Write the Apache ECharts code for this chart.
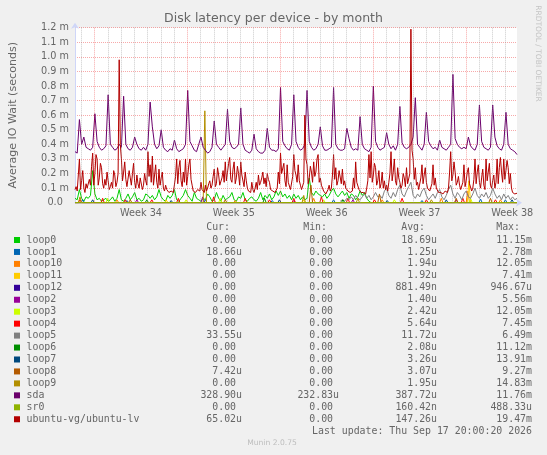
<!DOCTYPE html>
<html><head><meta charset="utf-8">
<script src="https://cdn.jsdelivr.net/npm/echarts@6/dist/echarts.min.js"></script>
<style>html,body{margin:0;padding:0;background:#F0F0F0}#c{width:547px;height:455px}</style>
</head><body><div id="c"></div>
<script>
// ---- time axis (hours since start of the graph) ----
const X_MAX_H = 800;
const weekLabels = ['Week 34', 'Week 35', 'Week 36', 'Week 37', 'Week 38'];
const weekCenterHours = [119.5, 287.5, 455.5, 623.5, 791.5];
const weekStartHours = [35.5, 203.5, 371.5, 539.5, 707.5];
const firstDayHour = 11.5;

// ---- legend table ----
const names = ['loop0','loop1','loop10','loop11','loop12','loop2','loop3','loop4','loop5','loop6','loop7','loop8','loop9','sda','sr0','ubuntu-vg/ubuntu-lv'];
const colors = ['#00CC00','#0066B3','#FF8000','#FFCC00','#330099','#990099','#CCFF00','#FF0000','#808080','#008F00','#00487D','#B35A00','#B38F00','#6B006B','#8FB300','#B30000'];
const curVals = ['0.00','18.66u','0.00','0.00','0.00','0.00','0.00','0.00','33.55u','0.00','0.00','7.42u','0.00','328.90u','0.00','65.02u'];
const minVals = ['0.00','0.00','0.00','0.00','0.00','0.00','0.00','0.00','0.00','0.00','0.00','0.00','0.00','232.83u','0.00','0.00'];
const avgVals = ['18.69u','1.25u','1.94u','1.92u','881.49n','1.40u','2.42u','5.64u','11.72u','2.08u','3.26u','3.07u','1.95u','387.72u','160.42n','147.26u'];
const maxVals = ['11.15m','2.78m','12.05m','7.41m','946.67u','5.56m','12.05m','7.45m','6.49m','11.12m','13.91m','9.27m','14.83m','11.76m','488.33u','19.47m'];

// ---- series values (milliseconds) ----
// sda: one sample every 4 h
const sdaStepH = 4;
const sda = [
0.35,0.34,0.57,0.40,0.45,0.38,0.37,0.36,0.38,0.61,
0.42,0.38,0.36,0.37,0.39,0.74,0.40,0.38,0.36,0.37,
0.40,0.38,0.73,0.40,0.37,0.36,0.38,0.45,0.40,0.37,
0.36,0.38,0.36,0.40,0.69,0.52,0.40,0.37,0.39,0.50,
0.38,0.36,0.35,0.37,0.36,0.43,0.37,0.35,0.36,0.37,
0.40,0.77,0.42,0.39,0.36,0.35,0.40,0.45,0.38,0.36,
0.34,0.35,0.38,0.56,0.40,0.38,0.36,0.38,0.40,0.64,
0.42,0.38,0.37,0.38,0.40,0.65,0.40,0.36,0.35,0.34,
0.36,0.47,0.37,0.35,0.34,0.34,0.36,0.51,0.38,0.36,
0.36,0.35,0.37,0.79,0.42,0.39,0.37,0.36,0.40,0.74,
0.42,0.38,0.36,0.37,0.40,0.77,0.42,0.38,0.36,0.37,
0.40,0.52,0.39,0.36,0.36,0.37,0.38,0.79,0.40,0.37,
0.36,0.36,0.37,0.51,0.44,0.38,0.36,0.37,0.36,0.59,
0.40,0.37,0.36,0.35,0.38,0.80,0.42,0.38,0.36,0.37,
0.38,0.48,0.40,0.37,0.39,0.36,0.40,0.66,0.41,0.38,
0.37,0.38,0.40,0.45,0.72,0.40,0.38,0.36,0.40,0.62,
0.42,0.39,0.37,0.38,0.36,0.43,0.38,0.37,0.36,0.38,
0.40,0.88,0.44,0.40,0.38,0.37,0.38,0.37,0.45,0.39,
0.37,0.36,0.40,0.67,0.42,0.38,0.37,0.36,0.38,0.67,
0.45,0.39,0.37,0.36,0.40,0.62,0.40,0.37,0.36,0.35,
0.33];
// ubuntu-vg/ubuntu-lv: one sample every 2 h
const ubuntuLvStepH = 2;
const ubuntuLv = [
0.09,0.11,0.08,0.19,0.30,0.09,0.15,0.22,0.10,0.07,0.13,0.10,0.09,0.16,0.12,0.25,0.34,0.12,0.20,0.33,
0.30,0.12,0.17,0.27,0.24,0.13,0.10,0.16,0.12,0.21,0.15,0.09,0.11,0.14,0.10,0.22,0.19,0.11,0.14,0.20,
0.98,0.40,0.30,0.15,0.21,0.28,0.16,0.11,0.12,0.22,0.17,0.12,0.20,0.27,0.14,0.10,0.19,0.13,0.10,0.17,
0.16,0.09,0.12,0.20,0.15,0.12,0.35,0.18,0.26,0.14,0.32,0.12,0.19,0.26,0.14,0.10,0.23,0.12,0.17,0.21,
0.10,0.08,0.12,0.09,0.08,0.07,0.07,0.08,0.09,0.07,0.08,0.18,0.30,0.13,0.24,0.29,0.15,0.11,0.21,0.14,
0.30,0.12,0.18,0.26,0.30,0.16,0.12,0.08,0.09,0.07,0.07,0.09,0.10,0.08,0.14,0.09,0.08,0.07,0.12,0.08,
0.10,0.13,0.15,0.10,0.12,0.18,0.23,0.11,0.13,0.24,0.19,0.12,0.12,0.17,0.22,0.14,0.28,0.15,0.21,0.27,
0.31,0.16,0.14,0.23,0.28,0.13,0.17,0.25,0.20,0.12,0.28,0.19,0.18,0.11,0.21,0.15,0.10,0.08,0.08,0.07,
0.14,0.09,0.07,0.10,0.14,0.09,0.19,0.12,0.14,0.17,0.21,0.13,0.17,0.11,0.20,0.16,0.14,0.09,0.10,0.08,
0.08,0.07,0.07,0.10,0.21,0.13,0.34,0.20,0.19,0.27,0.15,0.11,0.26,0.14,0.15,0.09,0.10,0.18,0.33,0.22,
0.19,0.14,0.26,0.15,0.12,0.09,0.10,0.14,0.60,0.30,0.26,0.13,0.17,0.25,0.21,0.14,0.28,0.18,0.21,0.30,
0.33,0.14,0.17,0.12,0.10,0.08,0.08,0.06,0.07,0.09,0.12,0.08,0.10,0.19,0.33,0.16,0.24,0.12,0.15,0.22,
0.21,0.13,0.23,0.12,0.15,0.10,0.10,0.08,0.08,0.07,0.06,0.08,0.17,0.10,0.28,0.14,0.15,0.09,0.08,0.07,
0.06,0.07,0.07,0.06,0.10,0.15,0.33,0.17,0.35,0.14,0.19,0.27,0.24,0.12,0.15,0.22,0.10,0.13,0.21,0.10,
0.15,0.09,0.12,0.08,0.14,0.20,0.35,0.15,0.21,0.30,0.15,0.12,0.24,0.17,0.14,0.10,0.12,0.20,0.17,0.11,
0.24,0.13,0.14,0.20,1.19,0.36,0.30,0.16,0.24,0.12,0.14,0.09,0.10,0.17,0.26,0.13,0.19,0.24,0.14,0.10,
0.10,0.08,0.08,0.13,0.26,0.12,0.17,0.10,0.10,0.07,0.08,0.07,0.07,0.06,0.07,0.08,0.08,0.07,0.10,0.21,
0.35,0.15,0.19,0.28,0.21,0.12,0.14,0.18,0.12,0.09,0.10,0.14,0.26,0.11,0.15,0.21,0.24,0.13,0.12,0.08,
0.10,0.16,0.30,0.13,0.21,0.26,0.14,0.10,0.17,0.23,0.12,0.09,0.30,0.15,0.21,0.27,0.12,0.10,0.15,0.19,
0.10,0.14,0.30,0.13,0.24,0.31,0.21,0.14,0.30,0.16,0.22,0.29,0.24,0.13,0.20,0.10,0.07,0.08,0.06,0.07,
0.065];
// loop0: every 4 h from the start
const loop0StepH = 4, loop0StartH = 0;
const loop0 = [
0.03,0.02,0.09,0.03,0.01,0.04,0.03,0.05,0.22,0.06,
0.02,0.03,0.01,0.02,0.03,0.01,0.02,0.04,0.01,0.03,
0.09,0.02,0.01,0.03,0.06,0.02,0.04,0.07,0.02,0.03,
0.01,0.02,0.06,0.05,0.03,0.05,0.02,0.04,0.09,0.04,
0.02,0.01,0.05,0.03,0.05,0.09,0.02,0.01,0.03,0.05,
0.09,0.05,0.03,0.01,0.07,0.03,0.02,0.01,0.03,0.02,
0.06,0.04,0.01,0.02,0.07,0.03,0.01,0.05,0.02,0.03,
0.04,0.07,0.02,0.01,0.04,0.03,0.07,0.02,0.01,0.03,
0.04,0.02,0.01,0.03,0.07,0.02,0.05,0.03,0.06,0.02,
0.04,0.08,0.05,0.08,0.04,0.06,0.03,0.05,0.02,0.06,
0.03,0.05,0.02,0.04,0.02,0.03,0.17,0.07,0.05,0.08,
0.06,0.05,0.04,0.06,0.03,0.05,0.08,0.10,0.06,0.04,
0.06,0.08,0.05,0.07,0.03,0.06,0.05,0.02,0.04,0.08,
0.05,0.07,0.03,0.01,0.00];
// loop5: every 4 h, from hour 480
const loop5StepH = 4, loop5StartH = 480;
const loop5 = [
0.01,0.02,0.01,0.03,0.02,0.04,0.02,0.05,0.03,0.02,
0.04,0.06,0.03,0.05,0.02,0.04,0.07,0.04,0.05,0.03,
0.08,0.10,0.05,0.03,0.07,0.04,0.09,0.12,0.06,0.04,
0.08,0.11,0.14,0.05,0.03,0.06,0.04,0.08,0.10,0.05,
0.02,0.04,0.06,0.03,0.07,0.09,0.04,0.02,0.05,0.09,
0.12,0.06,0.03,0.07,0.05,0.02,0.06,0.08,0.04,0.03,
0.06,0.10,0.05,0.03,0.06,0.04,0.07,0.03,0.05,0.10,
0.06,0.03,0.05,0.02,0.06,0.03,0.05,0.02,0.04,0.02,
0.03];
// sparse series: [hour, value] peaks, the line sits at 0 elsewhere
const loop1Peaks  = [[14,0.02],[94,0.015],[148,0.01],[236,0.02],[357,0.015],[468,0.02],[628,0.015],[734,0.025],[779,0.02]];
const loop10Peaks = [[76,0.02],[290,0.015],[432,0.03],[556,0.02],[663,0.03],[711,0.08],[770,0.02]];
const loop11Peaks = [[165,0.02],[414,0.02],[713,0.15]];
const loop12Peaks = [[41,0.01],[325,0.01],[592,0.01]];
const loop2Peaks  = [[112,0.02],[231,0.04],[396,0.015],[503,0.02],[690,0.02]];
const loop3Peaks  = [[59,0.03],[201,0.02],[263,0.03],[450,0.02],[578,0.02],[716,0.03]];
const loop4Peaks  = [[9,0.02],[50,0.03],[91,0.02],[139,0.02],[187,0.03],[251,0.04],[308,0.03],[352,0.02],[396,0.03],[446,0.04],[494,0.03],[542,0.02],[592,0.03],[636,0.02],[702,0.03],[761,0.02]];
const loop6Peaks  = [[130,0.02],[343,0.03],[485,0.02]];
const loop7Peaks  = [[32,0.02],[174,0.015],[370,0.02],[565,0.015],[672,0.02],[791,0.02]];
const loop8Peaks  = [[100,0.02],[272,0.02],[427,0.12],[551,0.06],[690,0.03],[752,0.03]];
const loop9Peaks  = [[9,0.04],[235,0.63],[414,0.05],[512,0.03],[645,0.02]];
const sr0Peaks    = [[76,0.01],[325,0.01]];

// ---- build ----
function sampled(values, startH, stepH) {
  return values.map((v, i) => [startH + i * stepH, v]);
}
function peakSeries(peaks) {
  const out = [[0, 0]];
  peaks.forEach(([h, v]) => { out.push([h - 3, 0], [h, v], [h + 3, 0]); });
  out.push([X_MAX_H, 0]);
  return out;
}
const seriesData = {
  'loop0': sampled(loop0, loop0StartH, loop0StepH),
  'loop1': peakSeries(loop1Peaks),
  'loop10': peakSeries(loop10Peaks),
  'loop11': peakSeries(loop11Peaks),
  'loop12': peakSeries(loop12Peaks),
  'loop2': peakSeries(loop2Peaks),
  'loop3': peakSeries(loop3Peaks),
  'loop4': peakSeries(loop4Peaks),
  'loop5': sampled(loop5, loop5StartH, loop5StepH),
  'loop6': peakSeries(loop6Peaks),
  'loop7': peakSeries(loop7Peaks),
  'loop8': peakSeries(loop8Peaks),
  'loop9': peakSeries(loop9Peaks),
  'sda': sampled(sda, 0, sdaStepH),
  'sr0': peakSeries(sr0Peaks),
  'ubuntu-vg/ubuntu-lv': sampled(ubuntuLv, 0, ubuntuLvStepH)
};

const MINOR = 'rgba(140,140,140,0.45)';
const MAJOR = 'rgba(235,40,40,0.4)';
const gridLines = [];
for (let h = firstDayHour; h < X_MAX_H; h += 24) {
  if (weekStartHours.indexOf(h) < 0) gridLines.push({ xAxis: h, lineStyle: { color: MINOR, type: [1, 1], width: 1 } });
}
weekStartHours.forEach(h => gridLines.push({ xAxis: h, lineStyle: { color: MAJOR, type: [1, 1], width: 1 } }));

const series = [{
  type: 'line', name: '_grid', data: [], silent: true, symbol: 'none',
  markLine: { silent: true, symbol: ['none', 'none'], label: { show: false }, animation: false, data: gridLines }
}];
names.forEach((n, k) => {
  series.push({
    type: 'line', name: n, data: seriesData[n], symbol: 'none', showSymbol: false,
    lineStyle: { width: 1, color: colors[k] }, itemStyle: { color: colors[k] },
    animation: false, silent: true
  });
});

// legend table drawn as text
const FONT_MONO = 'DejaVu Sans Mono';
const MONO = '9.9px "' + FONT_MONO + '"';
const TXT = '#666666';
const rowY0 = 240, rowDY = 11.95;
const colRight = [242, 339, 437, 532];
const headRight = [230, 327, 425, 520];
const headers = ['Cur:', 'Min:', 'Avg:', 'Max:'];
const cols = [curVals, minVals, avgVals, maxVals];
const graphics = [];
function pad(s) { return /[a-z]$/i.test(s) ? s : s + ' '; }
names.forEach((n, r) => {
  const y = rowY0 + r * rowDY;
  graphics.push({ type: 'rect', shape: { x: 14, y: y - 3, width: 6, height: 6 }, style: { fill: colors[r] } });
  graphics.push({ type: 'text', x: 26.5, y: y, style: { text: n, align: 'left', verticalAlign: 'middle', font: MONO, fill: TXT } });
});
headers.forEach((h, c) => graphics.push({ type: 'text', x: headRight[c], y: 227.7, style: { text: h, align: 'right', verticalAlign: 'middle', font: MONO, fill: TXT } }));
cols.forEach((col, c) => col.forEach((s, r) => graphics.push({ type: 'text', x: colRight[c], y: rowY0 + r * rowDY, style: { text: pad(s), align: 'right', verticalAlign: 'middle', font: MONO, fill: TXT } })));
graphics.push({ type: 'text', x: 532, y: 431.7, style: { text: 'Last update: Thu Sep 17 20:00:20 2026', align: 'right', verticalAlign: 'middle', font: MONO, fill: TXT } });
graphics.push({ type: 'text', x: 272, y: 443.3, style: { text: 'Munin 2.0.75', align: 'center', verticalAlign: 'middle', font: '7.6px "DejaVu Sans"', fill: '#BDBDBD' } });
graphics.push({ type: 'text', x: 537.5, y: 53.5, rotation: -Math.PI / 2, style: { text: 'RRDTOOL / TOBI OETIKER', align: 'center', verticalAlign: 'middle', font: '7.5px "DejaVu Sans"', fill: '#C4C4C4' } });

const chart = echarts.init(document.getElementById('c'), null, { renderer: 'canvas' });
chart.setOption({
  backgroundColor: '#F0F0F0',
  animation: false,
  title: { text: 'Disk latency per device - by month', left: 'center', top: 12, padding: 0,
    textStyle: { fontFamily: 'DejaVu Sans', fontSize: 12.5, fontWeight: 'normal', color: TXT } },
  grid: { left: 67, top: 27.7, width: 450, height: 175, show: true, backgroundColor: '#FFFFFF', borderWidth: 0, containLabel: false },
  xAxis: {
    type: 'value', min: 0, max: X_MAX_H,
    axisLine: { show: true, lineStyle: { color: '#CFD6F8', width: 1 }, symbol: ['none', 'arrow'], symbolSize: [6, 6], symbolOffset: [0, 5] },
    axisTick: { show: false },
    splitLine: { show: false },
    axisLabel: { customValues: weekCenterHours, margin: 6, fontFamily: 'DejaVu Sans', fontSize: 9.7, color: TXT,
      formatter: v => weekLabels[weekCenterHours.indexOf(v)] || '' }
  },
  yAxis: {
    type: 'value', min: 0, max: 1.2, interval: 0.1,
    name: 'Average IO Wait (seconds)', nameLocation: 'middle', nameRotate: 90, nameGap: 56,
    nameTextStyle: { fontFamily: 'DejaVu Sans', fontSize: 11.1, color: TXT },
    axisLine: { show: true, lineStyle: { color: '#CFD6F8', width: 1 }, symbol: ['none', 'arrow'], symbolSize: [6, 6], symbolOffset: [0, 5] },
    axisTick: { show: false },
    splitLine: { show: true, lineStyle: { color: MAJOR, type: [1, 1], width: 1 } },
    axisLabel: { margin: 6, fontFamily: 'DejaVu Sans', fontSize: 9.7, color: TXT,
      formatter: v => v === 0 ? '0.0  ' : v.toFixed(1) + ' m' }
  },
  graphic: graphics,
  series: series
});
</script></body></html>
